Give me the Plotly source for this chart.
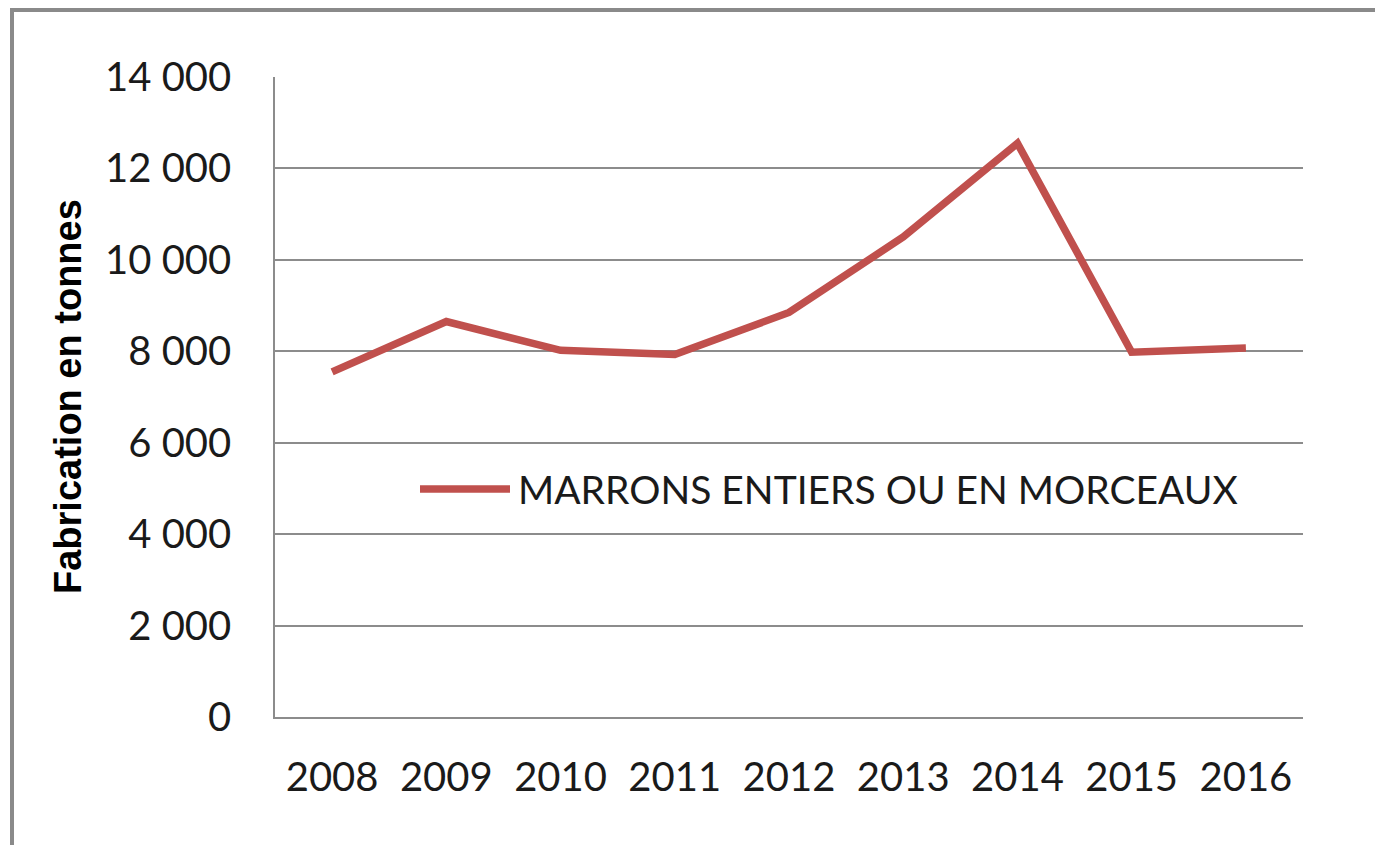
import plotly.graph_objects as go

years = ["2008", "2009", "2010", "2011", "2012", "2013", "2014", "2015", "2016"]
tonnes = [7550, 8650, 8020, 7930, 8850, 10500, 12550, 7980, 8070]
series_name = "MARRONS ENTIERS OU EN MORCEAUX"
y_title = "Fabrication en tonnes"
y_ticks = [0, 2000, 4000, 6000, 8000, 10000, 12000, 14000]

RED = "#C0504D"
GRID = "#8c8c8c"
FONT = "Lato"

OFF = 8  # page body margin
W, H = 1383 - OFF, 845 - OFF
L, T = 275 - OFF, 77 - OFF
pw, ph = 1028, 640
R, B = W - L - pw, H - T - ph

def px_x(p):
    return (p - OFF - L) / pw

def px_y(p):
    return (H - B - (p - OFF)) / ph

fig = go.Figure()
fig.add_trace(go.Scatter(
    x=years, y=tonnes, mode="lines", name=series_name,
    line=dict(color=RED, width=7.5), showlegend=False,
))

fig.update_layout(
    width=W, height=H,
    margin=dict(l=L, r=R, t=T, b=B, autoexpand=False),
    paper_bgcolor="white", plot_bgcolor="white",
    separators=", ",
    font=dict(family=FONT, color="#1a1a1a", size=40),
    xaxis=dict(
        type="category", range=[-0.5, 8.5], showgrid=False,
        showline=True, linecolor=GRID, linewidth=1.5,
        ticks="", tickfont=dict(size=40, family=FONT, color="#1a1a1a"), ticklabelstandoff=24,
    ),
    yaxis=dict(
        range=[0, 14000], tickvals=y_ticks, tickformat=",",
        showgrid=True, gridcolor=GRID, gridwidth=1.5,
        showline=True, linecolor=GRID, linewidth=1.5, zeroline=False,
        ticks="", tickfont=dict(size=40, family=FONT, color="#1a1a1a"), ticklabelstandoff=34,
    ),
    shapes=[
        dict(type="rect", xref="paper", yref="paper",
             x0=px_x(12), x1=px_x(1450), y0=px_y(10), y1=px_y(900),
             line=dict(color="#8a8a8a", width=4), fillcolor="rgba(0,0,0,0)", layer="below"),
        dict(type="line", xref="paper", yref="paper",
             x0=px_x(420), x1=px_x(510), y0=px_y(489), y1=px_y(489),
             line=dict(color=RED, width=7.5)),
    ],
    annotations=[
        dict(text=series_name, xref="paper", yref="paper", x=px_x(516), y=px_y(489),
             xanchor="left", yanchor="middle", showarrow=False,
             font=dict(size=39, family=FONT, color="#1a1a1a")),
        dict(text="<b>" + y_title + "</b>", xref="paper", yref="paper",
             x=px_x(68), y=px_y(397), xanchor="center", yanchor="middle",
             textangle=-90, showarrow=False,
             font=dict(size=38, family="Liberation Sans", color="black")),
    ],
)

fig.write_html("out.html")
